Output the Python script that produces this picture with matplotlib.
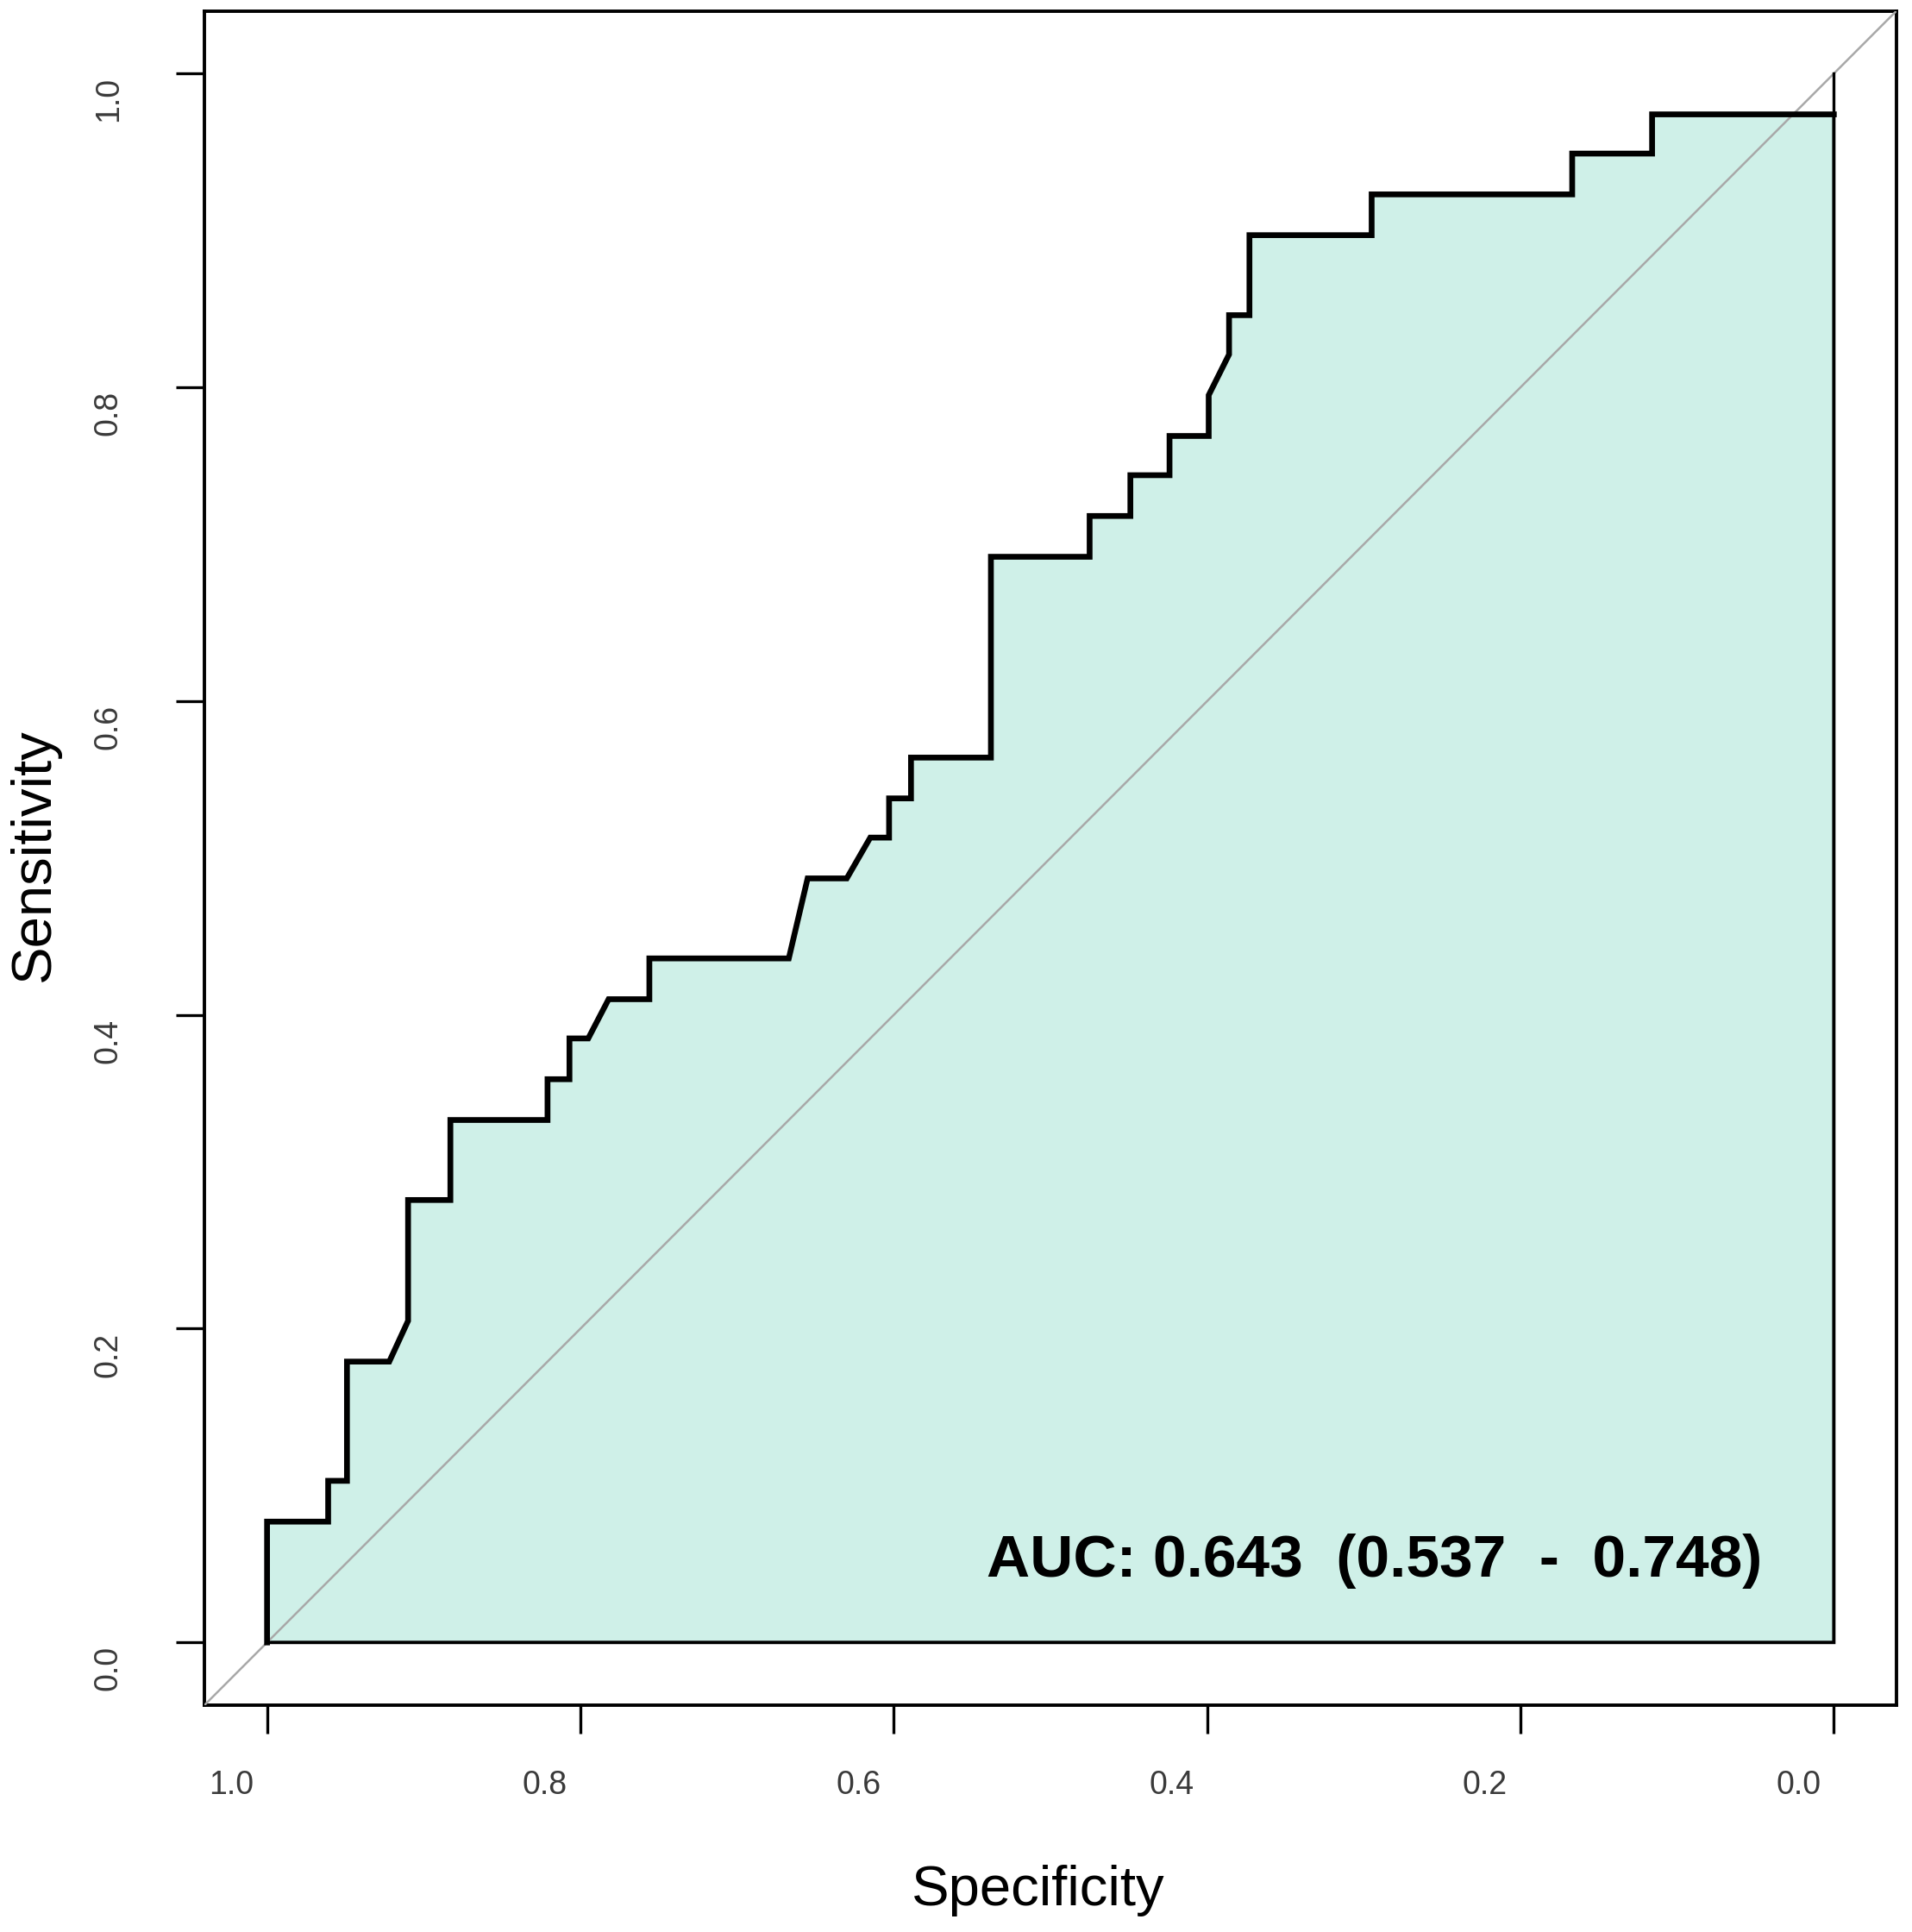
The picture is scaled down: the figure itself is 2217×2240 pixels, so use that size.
import matplotlib
matplotlib.use("Agg")
import matplotlib.pyplot as plt
import matplotlib.transforms as mtransforms

# ROC curve vertices (specificity, sensitivity)
spec = [1.000, 1.000, 0.961, 0.961, 0.949, 0.949, 0.922, 0.910, 0.910,
        0.883, 0.883, 0.821, 0.821, 0.807, 0.807, 0.795, 0.782, 0.756,
        0.756, 0.667, 0.655, 0.630, 0.615, 0.603, 0.603, 0.589, 0.589,
        0.538, 0.538, 0.475, 0.475, 0.449, 0.449, 0.424, 0.424, 0.399,
        0.399, 0.386, 0.386, 0.373, 0.373, 0.295, 0.295, 0.167, 0.167,
        0.116, 0.116, 0.000]
sens = [0.000, 0.077, 0.077, 0.103, 0.103, 0.179, 0.179, 0.205, 0.282,
        0.282, 0.333, 0.333, 0.359, 0.359, 0.385, 0.385, 0.410, 0.410,
        0.436, 0.436, 0.487, 0.487, 0.513, 0.513, 0.538, 0.538, 0.564,
        0.564, 0.692, 0.692, 0.718, 0.718, 0.744, 0.744, 0.769, 0.769,
        0.795, 0.821, 0.846, 0.846, 0.897, 0.897, 0.923, 0.923, 0.949,
        0.949, 0.974, 0.974]
end_spec = [0.000, 0.000]
end_sens = [0.974, 1.000]

ticks = [1.0, 0.8, 0.6, 0.4, 0.2, 0.0]
tick_labels = ["1.0", "0.8", "0.6", "0.4", "0.2", "0.0"]
auc_text = "AUC: 0.643  (0.537  -  0.748)"

fam = ["Liberation Sans", "DejaVu Sans"]

fig = plt.figure(figsize=(22.17, 22.40), dpi=100)
ax = fig.add_axes([0.1069, 0.1174, 0.885, 0.877])

ax.set_xlim(1.04, -0.04)
ax.set_ylim(-0.04, 1.04)

# diagonal reference line across the whole box
ax.plot([1.04, -0.04], [-0.04, 1.04], color="#a8a8a8", lw=1.8, zorder=3)

# auc polygon
poly_x = spec + [0.0]
poly_y = sens + [0.0]
ax.fill(poly_x, poly_y, facecolor="#cff0e8", edgecolor="black", lw=2.8,
        zorder=2)
ax.plot(spec, sens, color="black", lw=4.8, solid_joinstyle="miter", zorder=4)
ax.plot(end_spec, end_sens, color="black", lw=2.4, zorder=4)

ax.text(0.0457, 0.0418, auc_text, ha="right", va="baseline",
        fontsize=50, fontweight="bold", family=fam, zorder=5)

for s in ax.spines.values():
    s.set_linewidth(2.8)

ax.set_xticks(ticks)
ax.set_xticklabels(tick_labels)
ax.set_yticks(ticks)
ax.set_yticklabels(tick_labels)
ax.tick_params(axis="both", length=24, width=2.4, labelsize=27,
               labelcolor="#3a3a3a", direction="out")
ax.tick_params(axis="x", pad=30)
ax.tick_params(axis="y", pad=56)

shift_x = mtransforms.ScaledTranslation(-0.41, 0, fig.dpi_scale_trans)
for lab in ax.get_xticklabels():
    lab.set_family(fam)
    lab.set_transform(lab.get_transform() + shift_x)

shift_y = mtransforms.ScaledTranslation(0, -0.30, fig.dpi_scale_trans)
for lab in ax.get_yticklabels():
    lab.set_family(fam)
    lab.set_rotation(90)
    lab.set_ha("center")
    lab.set_va("center")
    lab.set_transform(lab.get_transform() + shift_y)

ax.set_xlabel("Specificity", fontsize=47, family=fam, va="center")
ax.set_ylabel("Sensitivity", fontsize=47, family=fam, va="center",
              ha="center")
ax.xaxis.set_label_coords(0.493, -0.1094)
ax.yaxis.set_label_coords(-0.1004, 0.5018)

fig.savefig("out.png", dpi=100, facecolor="white")
